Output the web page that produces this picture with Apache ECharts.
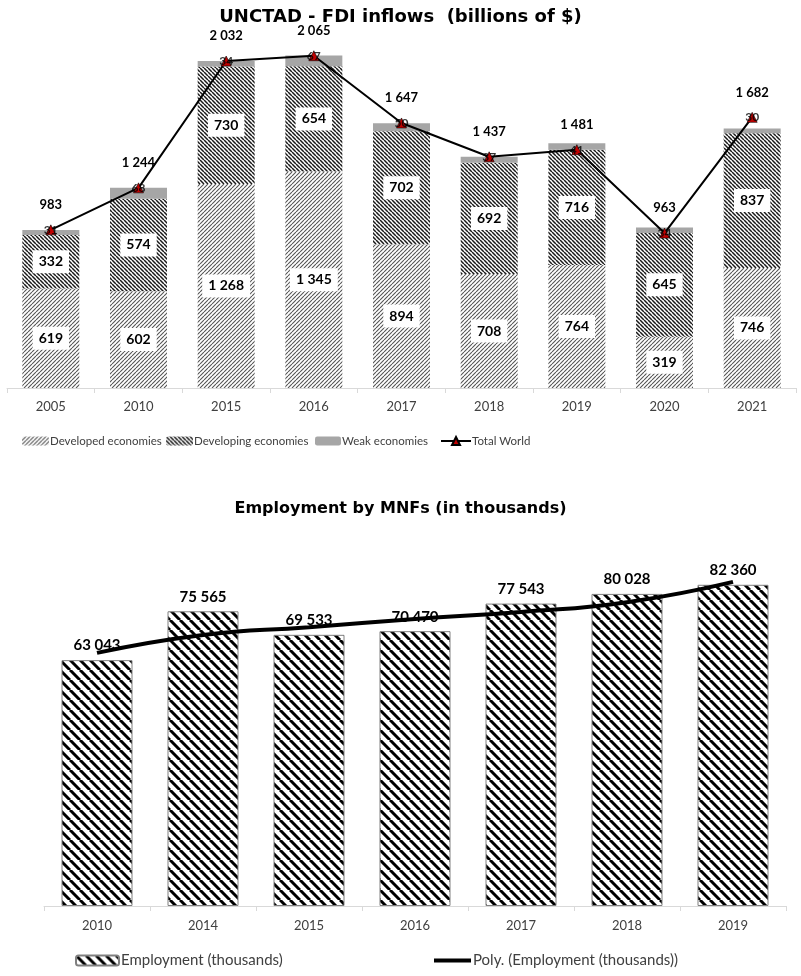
<!DOCTYPE html>
<html>
<head>
<meta charset="utf-8">
<script src="https://cdn.jsdelivr.net/npm/echarts@6/dist/echarts.min.js"></script>
<style>
  html, body { margin: 0; padding: 0; background: #fff; }
  #chart { width: 801px; height: 976px; }
</style>
</head>
<body>
<div id="chart"></div>
<script>
// FDI inflows (billions of $)
const fdiYears = ['2005', '2010', '2015', '2016', '2017', '2018', '2019', '2020', '2021']
const developed = [619, 602, 1268, 1345, 894, 708, 764, 319, 746]
const developing = [332, 574, 730, 654, 702, 692, 716, 645, 837]
const weak = [31, 68, 34, 67, 50, 37, 41, 34, 30]
const totalWorld = [983, 1244, 2032, 2065, 1647, 1437, 1481, 963, 1682]

// Employment by MNFs (thousands)
const empYears = ['2010', '2014', '2015', '2016', '2017', '2018', '2019']
const employment = [63043, 75565, 69533, 70470, 77543, 80028, 82360]
// polynomial trendline
const empTrend = [64900, 69500, 71500, 73600, 75400, 77900, 83100]

const fmt = v => String(v).replace(/\B(?=(\d{3})+(?!\d))/g, ' ')

// hatch pattern tiles
function stripes(size, lineW, color, dir) {
    const c = document.createElement('canvas')
    c.width = size
    c.height = size
    const ctx = c.getContext('2d')
    ctx.fillStyle = '#fff'
    ctx.fillRect(0, 0, size, size)
    ctx.strokeStyle = color
    ctx.lineWidth = lineW
    ctx.beginPath()
    for (let k = -1; k <= 1; k++) {
        if (dir === 'up') {
            ctx.moveTo(k * size, size)
            ctx.lineTo(k * size + size, 0)
        } else {
            ctx.moveTo(k * size, 0)
            ctx.lineTo(k * size + size, size)
        }
    }
    ctx.stroke()
    return { image: c, repeat: 'repeat' }
}

const devPattern = stripes(4, 1.1, '#555', 'up')
const dvgPattern = stripes(4, 1.5, '#1a1a1a', 'down')
const empPattern = stripes(10, 3, '#000', 'down')

const boxLabel = {
    show: true,
    position: 'inside',
    color: '#000',
    fontFamily: 'Lato',
    fontWeight: 'bold',
    fontSize: 14,
    backgroundColor: '#fff',
    padding: [5, 6, 4, 6],
    formatter: p => fmt(p.value)
}

const axisCommon = {
    type: 'category',
    axisLine: { lineStyle: { color: '#d9d9d9', width: 1 } },
    axisTick: { show: true, length: 5, lineStyle: { color: '#d9d9d9' } },
    axisLabel: { color: '#404040', fontFamily: 'Lato', fontSize: 13 }
}

const legendText = { color: '#404040', fontFamily: 'Lato', fontSize: 11.5, padding: [0, 0, 0, -4] }
const legendTextBig = { color: '#404040', fontFamily: 'Lato', fontSize: 15, padding: [0, 0, 0, -3] }

const chart = echarts.init(document.getElementById('chart'))

chart.setOption({
    animation: false,
    title: [
        {
            text: 'UNCTAD - FDI inflows  (billions of $)',
            left: 'center', top: 3,
            textStyle: { fontFamily: 'DejaVu Sans', fontWeight: 'bold', fontSize: 18, color: '#000' }
        },
        {
            text: 'Employment by MNFs (in thousands)',
            left: 'center', top: 496,
            textStyle: { fontFamily: 'DejaVu Sans', fontWeight: 'bold', fontSize: 16, color: '#000' }
        }
    ],
    legend: [
        { data: ['Developed economies'], left: 22, top: 435, itemWidth: 27, itemHeight: 9, textStyle: legendText, padding: 0 },
        { data: ['Developing economies'], left: 166, top: 435, itemWidth: 27, itemHeight: 9, textStyle: legendText, padding: 0 },
        { data: ['Weak economies'], left: 315, top: 435, itemWidth: 26, itemHeight: 9, textStyle: legendText, padding: 0 },
        { data: ['Total World'], left: 440, top: 435, itemWidth: 30, itemHeight: 10, textStyle: legendText, padding: 0 },
        { data: ['Employment (thousands)'], left: 75, top: 953, itemWidth: 43, itemHeight: 10, textStyle: legendTextBig, padding: 0 },
        { data: [{ name: 'Poly. (Employment (thousands))', icon: 'rect' }], left: 434, top: 953, itemWidth: 37, itemHeight: 4, textStyle: legendTextBig, padding: 0 }
    ],
    grid: [
        { left: 7, right: 5, top: 34, height: 354 },
        { left: 44, right: 15, top: 555, height: 351 }
    ],
    xAxis: [
        { ...axisCommon, gridIndex: 0, data: fdiYears, axisLabel: { ...axisCommon.axisLabel, margin: 12 } },
        { ...axisCommon, gridIndex: 1, data: empYears, axisLabel: { ...axisCommon.axisLabel, margin: 13 } }
    ],
    yAxis: [
        { type: 'value', gridIndex: 0, min: 0, max: 2200, show: false },
        { type: 'value', gridIndex: 1, min: 0, max: 90000, show: false }
    ],
    series: [
        {
            name: 'Developed economies', type: 'bar', stack: 'fdi', barWidth: 57,
            xAxisIndex: 0, yAxisIndex: 0,
            itemStyle: { color: devPattern },
            label: boxLabel,
            data: developed
        },
        {
            name: 'Developing economies', type: 'bar', stack: 'fdi',
            xAxisIndex: 0, yAxisIndex: 0,
            itemStyle: { color: dvgPattern },
            label: boxLabel,
            data: developing
        },
        {
            name: 'Weak economies', type: 'bar', stack: 'fdi',
            xAxisIndex: 0, yAxisIndex: 0,
            itemStyle: { color: '#a6a6a6' },
            data: weak
        },
        {
            name: 'Total World', type: 'line',
            xAxisIndex: 0, yAxisIndex: 0,
            symbol: 'triangle', symbolSize: 10,
            lineStyle: { color: '#000', width: 2 },
            itemStyle: { color: '#c00000', borderColor: '#000', borderWidth: 0.6 },
            label: {
                show: true, position: 'top', distance: 13,
                color: '#000', fontFamily: 'Lato', fontWeight: 'bold', fontSize: 13,
                formatter: p => fmt(p.value)
            },
            z: 5,
            data: totalWorld
        },
        {
            // weak-economy values written over the total markers
            name: 'weakLabels', type: 'scatter',
            xAxisIndex: 0, yAxisIndex: 0,
            symbolSize: 1, itemStyle: { color: 'transparent' },
            silent: true, z: 10,
            label: {
                show: true, position: 'inside',
                color: '#000', fontFamily: 'Lato', fontWeight: 'bold', fontSize: 12,
                formatter: p => weak[p.dataIndex]
            },
            data: totalWorld
        },
        {
            name: 'Employment (thousands)', type: 'bar', barWidth: 71,
            xAxisIndex: 1, yAxisIndex: 1,
            itemStyle: { color: empPattern, borderColor: '#808080', borderWidth: 1 },
            label: {
                show: true, position: 'top', distance: 7,
                color: '#000', fontFamily: 'Lato', fontWeight: 'bold', fontSize: 15,
                formatter: p => fmt(p.value)
            },
            data: employment
        },
        {
            name: 'Poly. (Employment (thousands))', type: 'line',
            xAxisIndex: 1, yAxisIndex: 1,
            smooth: true, symbol: 'none',
            lineStyle: { color: '#000', width: 4 },
            itemStyle: { color: '#000' },
            z: 5,
            data: empTrend
        }
    ]
})
</script>
</body>
</html>
